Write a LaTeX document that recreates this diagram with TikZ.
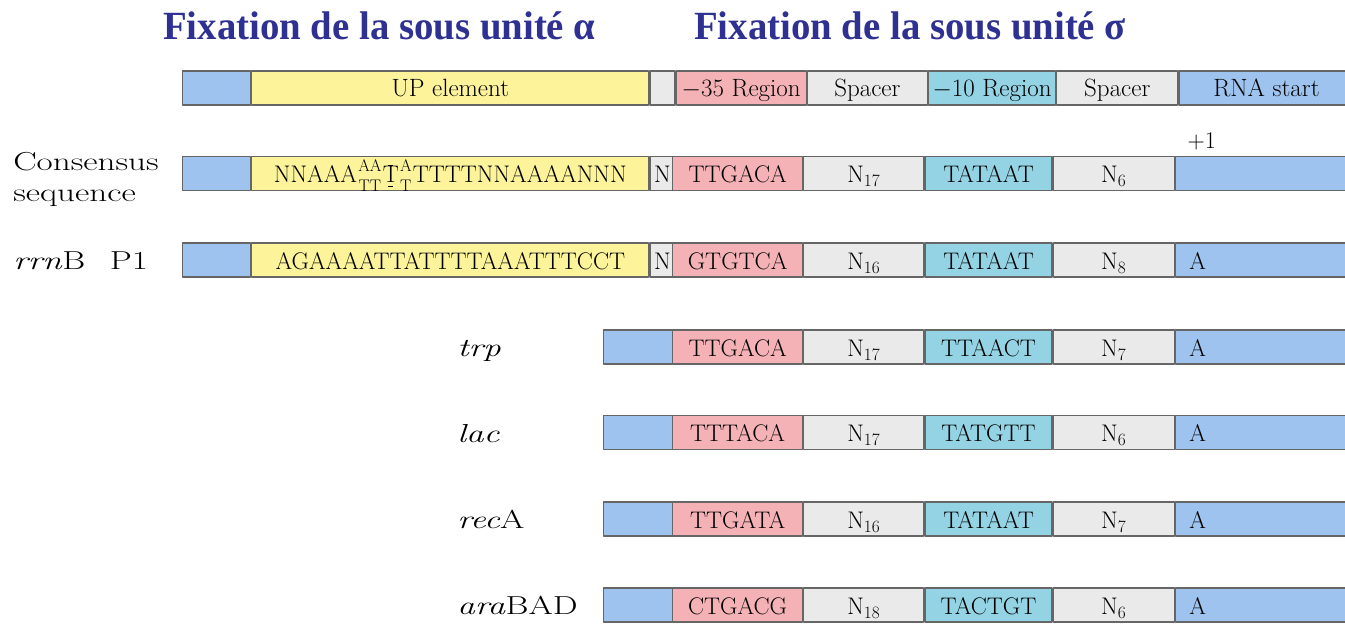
\documentclass[tikz,border=0pt]{standalone}
\usepackage{fontspec}
\newfontfamily\titrefont{Liberation Serif}
\definecolor{bleu}{HTML}{9EC3EF}
\definecolor{jaune}{HTML}{FCF39B}
\definecolor{gris}{HTML}{EAEAEA}
\definecolor{rose}{HTML}{F4B2B6}
\definecolor{turq}{HTML}{93D3E4}
\definecolor{titrebleu}{HTML}{2E3192}
\newcommand{\seqsize}{\fontsize{24}{28}\selectfont}
\newcommand{\hautsize}{\fontsize{25}{29}\selectfont}
\newcommand{\labsize}{\fontsize{26}{31}\selectfont}
\newcommand{\duo}[2]{${\mathrm{#1}\atop\mathrm{#2}}$}
\newcommand{\mil}[1]{\ooalign{#1\cr\hidewidth\rule[17pt]{5pt}{0.8pt}\hidewidth\cr
  \hidewidth\rule[-4pt]{5pt}{0.8pt}\hidewidth\cr}}
\begin{document}
\begin{tikzpicture}[x=1pt, y=1pt, line join=round,
    seg/.style={draw=black!60, line width=1.2pt, minimum height=34pt, inner sep=0pt,
      anchor=west, font=\seqsize, text=black, text height=21pt, text depth=2pt},
    haut/.style={seg, font=\hautsize, text height=19pt},
    rnabox/.style={seg, fill=bleu, minimum width=175, text width=147, inner xsep=14pt, align=left},
    lbl/.style={anchor=base west, font=\labsize, xscale=1.35, inner sep=0pt},
    titre/.style={anchor=base west, font={\titrefont\fontsize{40}{44}\bfseries},
      text=titrebleu, xscale=0.97, inner sep=0pt}]
  % partie sigma d'une ligne : nom, y, -35, espaceur, -10, espaceur, +1
  \def\promoteur#1#2#3#4#5#6#7{%
    \node[seg, fill=rose, minimum width=130] (#1-35) at (672,#2) {#3};
    \node[seg, fill=gris, minimum width=120] (#1-s1) at (#1-35.east) {#4};
    \node[seg, fill=turq, minimum width=127] (#1-10) at (#1-s1.east) {#5};
    \node[seg, fill=gris, minimum width=121] (#1-s2) at (#1-10.east) {#6};
    \node[rnabox] (#1-rna) at (#1-s2.east) {#7};}
  \useasboundingbox (0,0) rectangle (1345,628);

  \node[titre] (alpha) at (163,588) {Fixation de la sous unité α};
  \node[titre] (sigma) at (694,588) {Fixation de la sous unité σ};

  % barre du haut
  \node[haut, fill=bleu, minimum width=68] (h-g) at (182,540) {};
  \node[haut, fill=jaune, minimum width=397] (h-up) at (h-g.east) {UP element};
  \node[haut, fill=gris, minimum width=25] (h-n) at (h-up.east) {};
  \node[haut, fill=rose, minimum width=130] (h-35) at (h-n.east) {$-$35 Region};
  \node[haut, fill=gris, minimum width=120] (h-s1) at (h-35.east) {Spacer};
  \node[haut, fill=turq, minimum width=127] (h-10) at (h-s1.east) {$-$10 Region};
  \node[haut, fill=gris, minimum width=121] (h-s2) at (h-10.east) {Spacer};
  \node[haut, fill=bleu, minimum width=175] (h-rna) at (h-s2.east) {RNA start};

  % consensus
  \node[lbl, anchor=west, align=left] (cons-lab) at (13,449) {Consensus\\sequence};
  \node[seg, fill=bleu, minimum width=68] (cons-g) at (182,454.5) {};
  \node[seg, fill=jaune, minimum width=397] (cons-up) at (cons-g.east)
    {NNAAA\duo{AA}{TT}\mil{T}\duo{A}{T}TTTTNNAAAANNN};
  \node[seg, fill=gris, minimum width=25] (cons-n) at (cons-up.east) {N};
  \promoteur{cons}{454.5}{TTGACA}{N$_{17}$}{TATAAT}{N$_6$}{}
  \node[font=\seqsize] (plus) at ([xshift=27,yshift=14.5]cons-rna.north west) {+1};

  % rrnB P1
  \node[lbl] (rrn-lab) at (13,358) {\textit{rrn}B\hspace{0.7em}P1};
  \node[seg, fill=bleu, minimum width=68] (rrn-g) at (182,368) {};
  \node[seg, fill=jaune, minimum width=397] (rrn-up) at (rrn-g.east) {AGAAAATTATTTTAAATTTCCT};
  \node[seg, fill=gris, minimum width=25] (rrn-n) at (rrn-up.east) {N};
  \promoteur{rrn}{368}{GTGTCA}{N$_{16}$}{TATAAT}{N$_8$}{A}

  % autres promoteurs
  \foreach \nom/\yy/\lab/\ma/\na/\mb/\nb in {trp/281/\textit{trp}/TTGACA/17/TTAACT/7,
      lac/195.5/\textit{lac}/TTTACA/17/TATGTT/6, rec/109/\textit{rec}A/TTGATA/16/TATAAT/7,
      ara/23/\textit{ara}BAD/CTGACG/18/TACTGT/6}{
    \node[lbl] (\nom-lab) at (457,\yy-10) {\lab};
    \node[seg, fill=bleu, minimum width=69] (\nom-g) at (603,\yy) {};
    \promoteur{\nom}{\yy}{\ma}{N$_{\na}$}{\mb}{N$_{\nb}$}{A}
  }
\end{tikzpicture}
\end{document}
